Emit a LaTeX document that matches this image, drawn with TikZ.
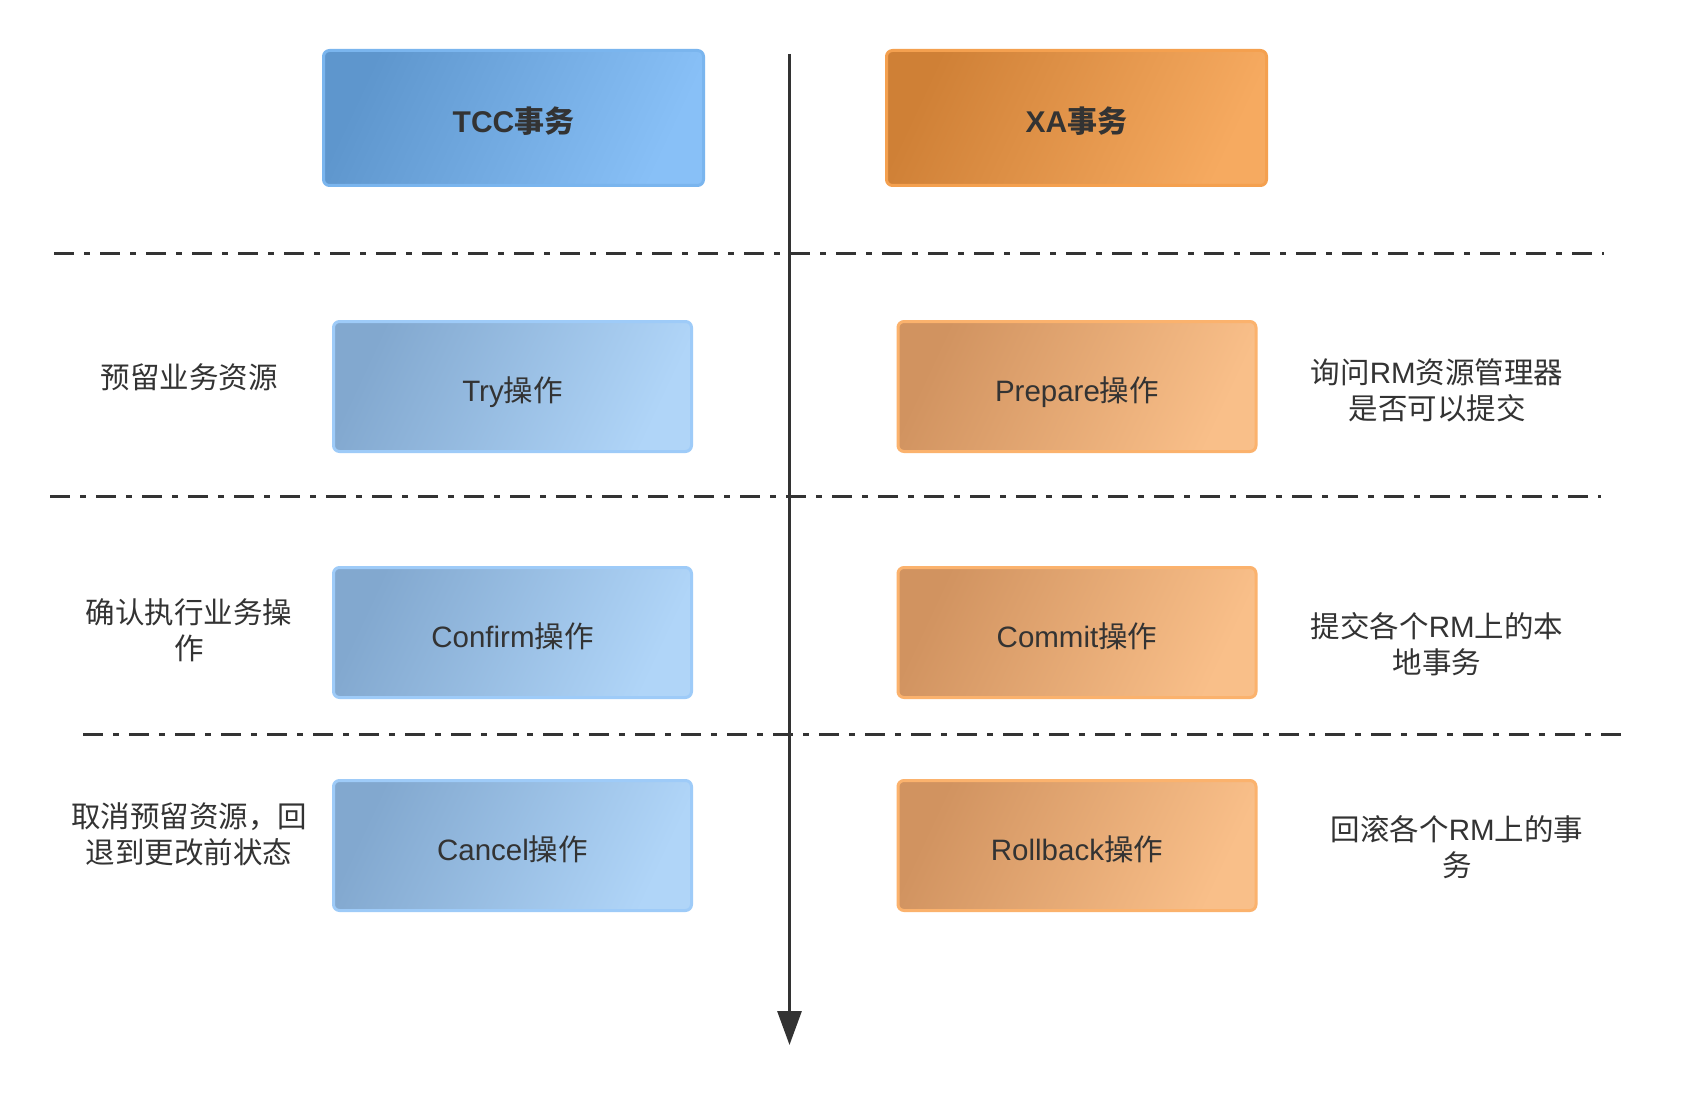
\documentclass[tikz,border=0pt]{standalone}
\usepackage{fontspec}
\setmainfont{Liberation Sans}
\newfontfamily\cjk{Noto Sans CJK SC}
\newcommand\zh[1]{{\cjk #1}}
\usetikzlibrary{arrows.meta}
\definecolor{txt}{HTML}{333333}
\definecolor{tccL}{HTML}{5E96CD}
\definecolor{tccR}{HTML}{88C0F7}
\definecolor{tccB}{HTML}{7AB5EE}
\definecolor{opbL}{HTML}{82A8CF}
\definecolor{opbR}{HTML}{B0D5F8}
\definecolor{opbB}{HTML}{9ECBF8}
\definecolor{xaL}{HTML}{CF8036}
\definecolor{xaR}{HTML}{F6AA60}
\definecolor{xaB}{HTML}{F4A04F}
\definecolor{opoL}{HTML}{D19360}
\definecolor{opoR}{HTML}{F9BF89}
\definecolor{opoB}{HTML}{FBB26D}
\tikzset{
  box/.style={rectangle, rounded corners=6pt, line width=3pt, text=txt,
    text height=30pt, text depth=1pt,
    font=\fontsize{29.5}{34}\selectfont},
  titleblue/.style={box, draw=tccB, left color=tccL, right color=tccR, shading angle=65,
    minimum width=380pt, minimum height=135pt, font=\fontsize{30}{34}\selectfont\bfseries},
  titleorange/.style={box, draw=xaB, left color=xaL, right color=xaR, shading angle=65,
    minimum width=380pt, minimum height=135pt, font=\fontsize{30}{34}\selectfont\bfseries},
  opblue/.style={box, draw=opbB, left color=opbL, right color=opbR, shading angle=65,
    minimum width=358pt, minimum height=130pt},
  oporange/.style={box, draw=opoB, left color=opoL, right color=opoR, shading angle=65,
    minimum width=358pt, minimum height=130pt},
  note/.style={text=txt, align=center, font=\fontsize{29.5}{36}\selectfont},
  sep/.style={draw=txt, line width=3pt, dash pattern=on 20pt off 10pt on 6pt off 10pt},
  timeline/.style={draw=txt, line width=3pt, -{Triangle[length=34pt,width=24pt]}}
}
\begin{document}
\begin{tikzpicture}[x=1pt,y=-1pt]
\useasboundingbox[fill=white] (0,0) rectangle (1682,1094);
% separators
\coordinate (s1a) at (54,254);  \coordinate (s1b) at (1604,254);
\coordinate (s2a) at (50,496);  \coordinate (s2b) at (1601,496);
\coordinate (s3a) at (83,734);  \coordinate (s3b) at (1631,734);
\draw[sep] (s1a) -- (s1b);
\draw[sep] (s2a) -- (s2b);
\draw[sep] (s3a) -- (s3b);
% timeline
\coordinate (t0) at (789.5,54);
\coordinate (t1) at (789.5,1045);
\draw[timeline] (t0) -- (t1);
% boxes
\node[titleblue] (tcc) at (513.5,118) {TCC\zh{事务}};
\node[titleorange] (xa) at (1076.5,118) {XA\zh{事务}};
\node[opblue] (try) at (512.5,386.5) {Try\zh{操作}};
\node[oporange] (prep) at (1077,386.5) {Prepare\zh{操作}};
\node[opblue] (conf) at (512.5,632.5) {Confirm\zh{操作}};
\node[oporange] (comm) at (1077,632.5) {Commit\zh{操作}};
\node[opblue] (canc) at (512.5,845.5) {Cancel\zh{操作}};
\node[oporange] (roll) at (1077,845.5) {Rollback\zh{操作}};
% notes
\node[note] (n1) at (189,377) {\zh{预留业务资源}};
\node[note] (n2) at (189,630) {\zh{确认执行业务操}\\\zh{作}};
\node[note] (n3) at (189,834) {\zh{取消预留资源，回}\\\zh{退到更改前状态}};
\node[note] (n4) at (1437,390) {\zh{询问}RM\zh{资源管理器}\\\zh{是否可以提交}};
\node[note] (n5) at (1437,644) {\zh{提交各个}RM\zh{上的本}\\\zh{地事务}};
\node[note] (n6) at (1457,847) {\zh{回滚各个}RM\zh{上的事}\\\zh{务}};
\end{tikzpicture}
\end{document}
